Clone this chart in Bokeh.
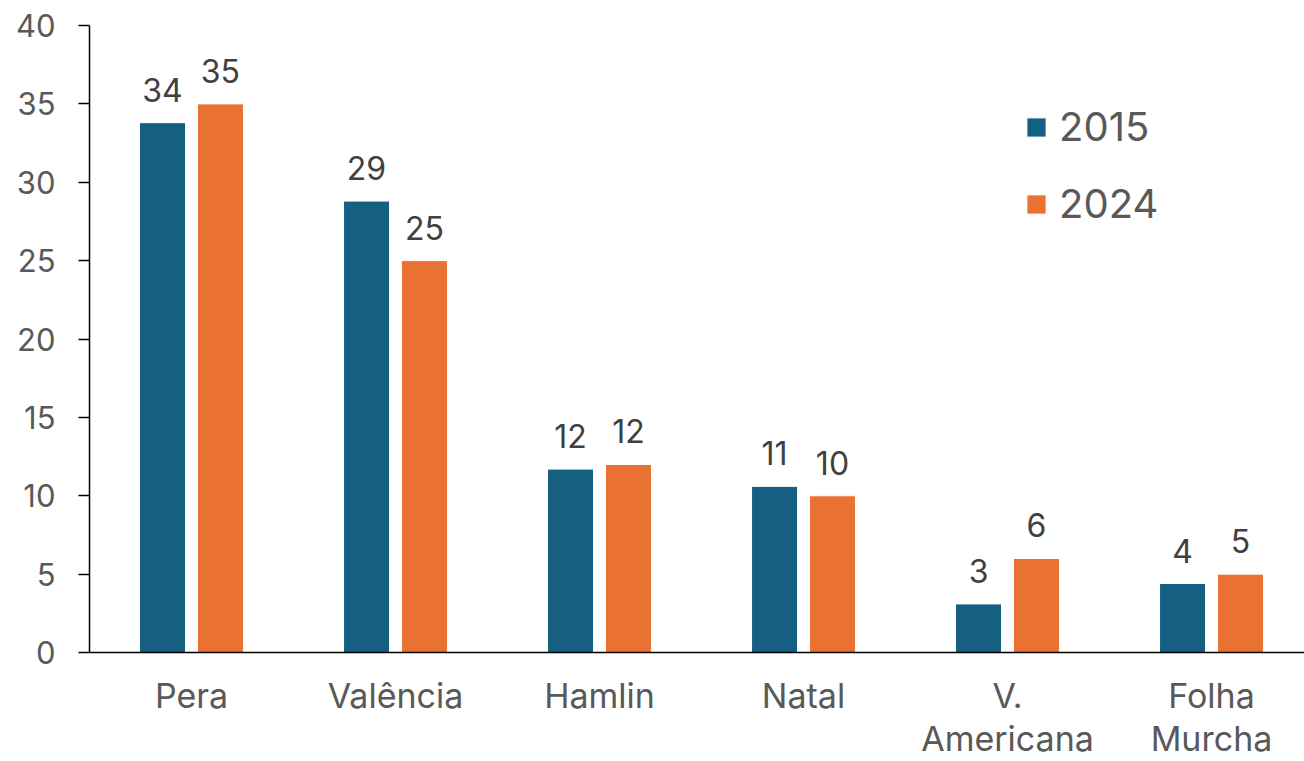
from bokeh.plotting import figure
from bokeh.models import ColumnDataSource, Range1d, FixedTicker, Legend, LegendItem
from bokeh.transform import dodge
from bokeh.core.properties import value
from bokeh.embed import file_html
from bokeh.resources import INLINE

categories = ["Pera", "Valência", "Hamlin", "Natal", "V.\nAmericana", "Folha\nMurcha"]
series_2015 = [33.8, 28.8, 11.7, 10.6, 3.1, 4.4]
series_2024 = [35.0, 25.0, 12.0, 10.0, 6.0, 5.0]
y_ticks = [0, 5, 10, 15, 20, 25, 30, 35, 40]

C2015 = "#156082"
C2024 = "#E97132"
FONT = "Inter"

idx = list(range(len(categories)))
src = ColumnDataSource(dict(
    x=idx,
    v15=series_2015,
    v24=series_2024,
    l15=[f"{v:.0f}" for v in series_2015],
    l24=[f"{v:.0f}" for v in series_2024],
))

p = figure(width=1304, height=761, output_backend="svg", toolbar_location=None,
           x_range=Range1d(-0.5, -0.5 + 1215 / 204), y_range=Range1d(0, 40),
           min_border_left=89, min_border_right=0, min_border_top=25, min_border_bottom=108)
p.outline_line_color = None
p.xgrid.visible = False
p.ygrid.visible = False
p.background_fill_color = "white"
p.border_fill_color = "white"

off = 0.142
bw = 46 / 204
r15 = p.vbar(x=dodge("x", -off, range=p.x_range), top="v15", width=bw, source=src,
             fill_color=C2015, line_color="white", line_width=1)
r24 = p.vbar(x=dodge("x", off, range=p.x_range), top="v24", width=bw, source=src,
             fill_color=C2024, line_color="white", line_width=1)

for col, lab, dx in (("v15", "l15", -off), ("v24", "l24", off)):
    p.text(x=dodge("x", dx, range=p.x_range), y=col, text=lab, source=src,
           text_align="center", text_baseline="bottom", y_offset=-21,
           text_font=value(FONT), text_font_size="32px", text_color="#404040")

# axes
p.yaxis.ticker = FixedTicker(ticks=y_ticks)
p.yaxis.minor_tick_line_color = None
p.yaxis.major_tick_in = 0
p.yaxis.major_tick_out = 11
p.yaxis.major_tick_line_color = "black"
p.yaxis.major_tick_line_width = 1.5
p.yaxis.axis_line_color = "black"
p.yaxis.axis_line_width = 1.5
p.yaxis.major_label_text_font = FONT
p.yaxis.major_label_text_font_size = "31px"
p.yaxis.major_label_text_color = "#595959"
p.yaxis.major_label_standoff = 23

p.xaxis.ticker = FixedTicker(ticks=idx)
p.xaxis.major_label_overrides = {i: c for i, c in zip(idx, categories)}
p.xaxis.minor_tick_line_color = None
p.xaxis.major_tick_line_color = None
p.xaxis.axis_line_color = "black"
p.xaxis.axis_line_width = 1.5
p.xaxis.major_label_text_font = FONT
p.xaxis.major_label_text_font_size = "34px"
p.xaxis.major_label_text_line_height = 1.05
p.xaxis.major_label_text_color = "#595959"
p.xaxis.major_label_standoff = 16

legend = Legend(items=[LegendItem(label="2015", renderers=[r15]),
                       LegendItem(label="2024", renderers=[r24])],
                location=(935, 424), orientation="vertical",
                glyph_width=24, glyph_height=24, label_standoff=11,
                label_text_font=FONT, label_text_font_size="40px",
                label_text_color="#595959", label_height=40, spacing=28,
                padding=0, margin=0, border_line_color=None,
                background_fill_alpha=0)
p.add_layout(legend)

open("out.html", "w").write(file_html(p, INLINE))
